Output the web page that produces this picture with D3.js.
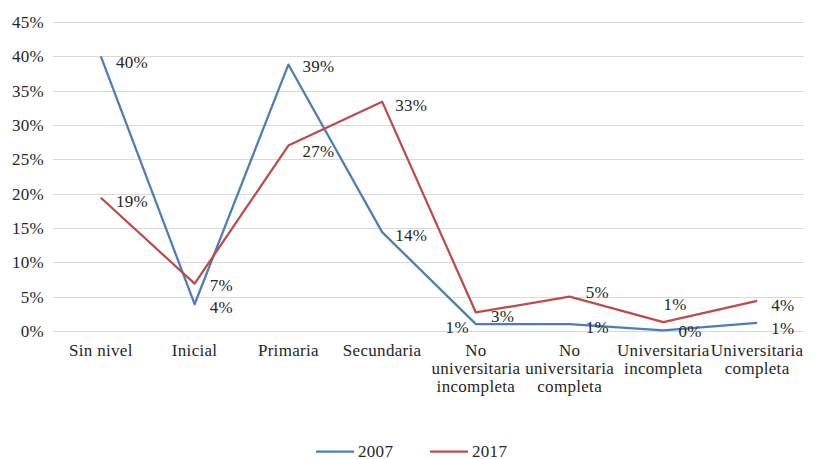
<!DOCTYPE html>
<html>
<head>
<meta charset="utf-8">
<script src="https://cdn.jsdelivr.net/npm/d3@7"></script>
<style>
  html, body { margin: 0; padding: 0; background: #fff; }
  svg { display: block; }
</style>
</head>
<body>
<svg id="chart" width="817" height="459"></svg>
<script>
// Nivel educativo, porcentaje por año
const categories = ["Sin nivel", "Inicial", "Primaria", "Secundaria",
  "No universitaria incompleta", "No universitaria completa",
  "Universitaria incompleta", "Universitaria completa"];
const values2007 = [40.0, 3.9, 38.8, 14.4, 1.0, 1.0, 0.1, 1.2];
const values2017 = [19.4, 6.9, 27.0, 33.4, 2.7, 5.0, 1.3, 4.4];
const yTicks = [0, 5, 10, 15, 20, 25, 30, 35, 40, 45];

const series = [
  { name: "2007", values: values2007, color: "#4A7EBB" },
  { name: "2017", values: values2017, color: "#BE4B48" }
];

// label offsets from each point: [dx, dy of visual centre, anchor]
const labelPlacement = {
  "2007": [[15, 6, "start"], [15, 3, "start"], [14, 1, "start"], [13, 3, "start"],
           [-7, 3, "end"], [16, 3, "start"], [15, 1, "start"], [14, 5, "start"]],
  "2017": [[15, 3, "start"], [15, 1, "start"], [14, 5, "start"], [13, 3, "start"],
           [15, 4, "start"], [16, -5, "start"], [0, -18, "start"], [14, 4, "start"]]
};

const svg = d3.select("#chart")
  .attr("font-family", "Liberation Serif, Times New Roman, serif")
  .attr("font-size", 17)
  .attr("letter-spacing", "0.3px")
  .attr("fill", "#262626");
const plotLeft = 54, plotRight = 804, plotTop = 22, plotBottom = 331;

const x = d3.scaleBand().domain(categories).range([plotLeft, plotRight]);
const cx = c => x(c) + x.bandwidth() / 2;
const y = d3.scaleLinear().domain([0, 45]).range([plotBottom, plotTop]);

// gridlines
svg.append("g").selectAll("line").data(yTicks).join("line")
  .attr("x1", plotLeft - 1).attr("x2", plotRight)
  .attr("y1", d => Math.round(y(d)) + 0.5).attr("y2", d => Math.round(y(d)) + 0.5)
  .attr("stroke", "#d9d9d9").attr("stroke-width", 1);

// y axis labels
svg.append("g").selectAll("text").data(yTicks).join("text")
  .attr("x", 44).attr("y", d => y(d) + 6)
  .attr("text-anchor", "end")
  .text(d => d + "%");

// category labels, wrapped to the band width
const catG = svg.append("g");
categories.forEach(c => {
  const t = catG.append("text").attr("text-anchor", "middle");
  const words = c.split(" ");
  const lines = [];
  let line = [];
  const probe = svg.append("text").attr("visibility", "hidden");
  words.forEach(w => {
    const trial = line.concat([w]).join(" ");
    probe.text(trial);
    if (line.length && probe.node().getComputedTextLength() > x.bandwidth() - 2) {
      lines.push(line.join(" "));
      line = [w];
    } else {
      line.push(w);
    }
  });
  lines.push(line.join(" "));
  probe.remove();
  lines.forEach((l, i) => {
    t.append("tspan").attr("x", cx(c)).attr("y", 356 + i * 18).text(l);
  });
});

// lines
const lineGen = d3.line().x((d, i) => cx(categories[i])).y(d => y(d));
series.forEach(s => {
  svg.append("path")
    .datum(s.values)
    .attr("fill", "none")
    .attr("stroke", s.color)
    .attr("stroke-width", 2.25)
    .attr("stroke-linejoin", "round")
    .attr("d", lineGen);
});

// data labels
const fmt = d3.format(".0%");
series.forEach(s => {
  svg.append("g").selectAll("text").data(s.values).join("text")
    .attr("x", (d, i) => cx(categories[i]) + labelPlacement[s.name][i][0])
    .attr("y", (d, i) => y(d) + labelPlacement[s.name][i][1] + 6)
    .attr("text-anchor", (d, i) => labelPlacement[s.name][i][2])
    .text(d => fmt(d / 100));
});

// legend
const legend = svg.append("g");
const legendX = [316, 430];
series.forEach((s, i) => {
  legend.append("line")
    .attr("x1", legendX[i]).attr("x2", legendX[i] + 38)
    .attr("y1", 451.5).attr("y2", 451.5)
    .attr("stroke", s.color).attr("stroke-width", 2.25);
  legend.append("text")
    .attr("x", legendX[i] + 42).attr("y", 456.5)
    .text(s.name);
});
</script>
</body>
</html>
